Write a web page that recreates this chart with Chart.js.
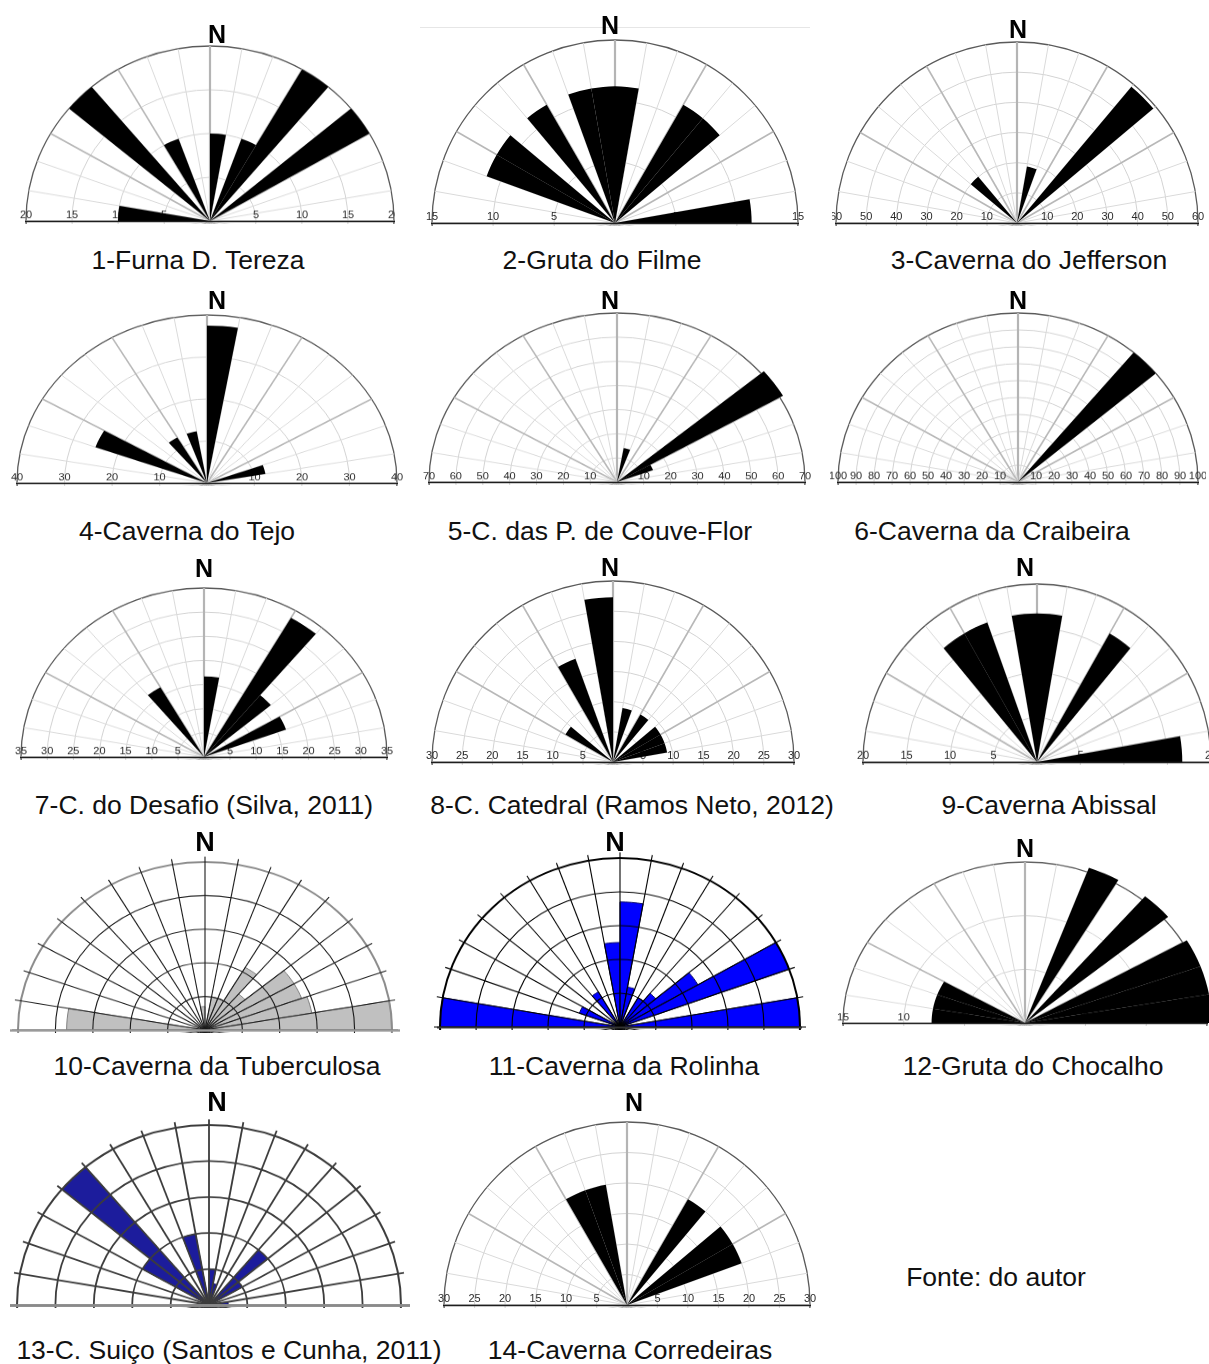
<!DOCTYPE html>
<html lang="pt">
<head>
<meta charset="utf-8">
<title>Rosetas de direção das cavernas</title>
<script src="https://cdn.jsdelivr.net/npm/chart.js@4.4.1/dist/chart.umd.min.js"></script>
<style>
  html, body { margin: 0; padding: 0; background: #fff; }
  body { position: relative; width: 1209px; height: 1364px; overflow: hidden;
         font-family: "Liberation Sans", Arial, sans-serif; color: #111; }
  .box { position: absolute; overflow: hidden; }
  .box canvas { position: absolute; }
  .north { position: absolute; font-weight: bold; font-size: 25px; line-height: 1;
           transform: translate(-50%, -50%); color: #000; }
  .north.narrow { font-family: "Liberation Sans Narrow", "Arial Narrow", "Liberation Sans", sans-serif; font-size: 27px; }
  .title { position: absolute; font-size: 26.5px; line-height: 1; white-space: nowrap;
           transform: translate(-50%, -50%); }
  .rule { position: absolute; height: 1px; background: #e6e6e6; }
</style>
</head>
<body>
<script>
// 10° direction classes, from W (270°) through N to E (90°)
const directionClasses = ['270-280','280-290','290-300','300-310','310-320','320-330','330-340','340-350','350-360',
                          '000-010','010-020','020-030','030-040','040-050','050-060','060-070','070-080','080-090'];
// the southern half of the circle is never filled
const southernClasses = ['090-100','100-110','110-120','120-130','130-140','140-150','150-160','160-170','170-180',
                         '180-190','190-200','200-210','210-220','220-230','230-240','240-250','250-260','260-270'];
const southernValues = [0,0,0,0,0,0,0,0,0, 0,0,0,0,0,0,0,0,0];

// frequency (%) per class, W -> N -> E
const furnaDTereza     = [10, 0, 0, 0, 20, 0, 10, 0, 0, 10, 0, 10, 20, 0, 20, 0, 0, 0];
const grutaDoFilme     = [0, 0, 11.2, 11.2, 0, 11.2, 0, 11.2, 11.2, 11.2, 0, 0, 11.2, 11.2, 0, 0, 0, 11.2];
const cavernaJefferson = [0, 0, 0, 0, 20, 0, 0, 0, 0, 0, 19, 0, 0, 59, 0, 0, 0, 0];
const cavernaTejo      = [0, 0, 25, 0, 0, 12.5, 0, 12.5, 0, 37.5, 0, 0, 0, 0, 0, 0, 12.5, 0];
const couveFlor        = [0, 0, 0, 0, 0, 0, 0, 0, 0, 0, 14.3, 0, 0, 0, 71.4, 14.3, 0, 0];
const craibeira        = [0, 0, 0, 0, 0, 0, 0, 0, 0, 0, 0, 0, 0, 100, 0, 0, 0, 0];
const desafio          = [0, 0, 0, 0, 0, 16.7, 0, 0, 0, 16.7, 0, 0, 33.3, 16.7, 0, 16.7, 0, 0];
const catedral         = [0, 0, 0, 9.1, 0, 0, 18.2, 0, 27.3, 0, 9.1, 0, 9.1, 0, 9.1, 9.1, 9.1, 0];
const abissal          = [0, 0, 0, 0, 0, 16.7, 16.7, 0, 16.7, 16.7, 0, 0, 16.7, 0, 0, 0, 0, 16.7];
// roses 10, 11 and 13 carry no scale: values are in rings (rim = 5)
const tuberculosa      = [3.7, 0, 0, 0, 0, 0, 0, 0, 0.7, 0, 1.0, 1.0, 2.15, 1.4, 2.75, 2.75, 2.9, 5.0];
const rolinha          = [5.0, 0, 1.2, 0, 0, 1.2, 0, 0, 2.5, 3.7, 1.2, 0, 1.0, 1.3, 2.5, 5.0, 0, 5.0];
const chocalho         = [7.7, 7.7, 7.7, 0, 0, 0, 0, 0, 0, 0, 0, 15.4, 0, 15.4, 0, 15.4, 15.4, 15.4];
const suico            = [0, 0, 0, 2.0, 5.0, 0, 0, 2.0, 0, 1.0, 0.6, 0, 0, 2.0, 1.0, 0, 0, 0.5];
const corredeiras      = [0, 0, 0, 0, 0, 0, 20, 20, 0, 0, 0, 0, 20, 0, 20, 20, 0, 0];

// numbers printed along the E-W axis (mirrored on both sides)
const axis20  = [5, 10, 15, 20];
const axis15  = [5, 10, 15];
const axis60  = [10, 20, 30, 40, 50, 60];
const axis40  = [10, 20, 30, 40];
const axis70  = [10, 20, 30, 40, 50, 60, 70];
const axis100 = [10, 20, 30, 40, 50, 60, 70, 80, 90, 100];
const axis35  = [5, 10, 15, 20, 25, 30, 35];
const axis30  = [5, 10, 15, 20, 25, 30];

const captions = [
  '1-Furna D. Tereza', '2-Gruta do Filme', '3-Caverna do Jefferson',
  '4-Caverna do Tejo', '5-C. das P. de Couve-Flor', '6-Caverna da Craibeira',
  '7-C. do Desafio (Silva, 2011)', '8-C. Catedral (Ramos Neto, 2012)', '9-Caverna Abissal',
  '10-Caverna da Tuberculosa', '11-Caverna da Rolinha', '12-Gruta do Chocalho',
  '13-C. Suiço (Santos e Cunha, 2011)', '14-Caverna Corredeiras'
];
const sourceNote = 'Fonte: do autor';

// ---- layout of each rose on the sheet --------------------------------------
// cx, cy: centre of the rose; rh, rv: horizontal / vertical radius of the rim
const roses = [
  { values: furnaDTereza,     max: 20,  step: 5,  axis: axis20,  cx: 210,  cy: 221,  rh: 184, rv: 175, clip: [10, 20, 395, 224],
    north: [217, 34],   caption: [198, 260] },
  { values: grutaDoFilme,     max: 15,  step: 5,  axis: axis15,  cx: 615,  cy: 223,  rh: 183, rv: 184,
    north: [610, 25],   caption: [602, 260] },
  { values: cavernaJefferson, max: 60,  step: 10, axis: axis60,  cx: 1017, cy: 223,  rh: 181, rv: 180, clip: [832, 25, 1209, 226],
    north: [1018, 29],  caption: [1029, 260] },
  { values: cavernaTejo,      max: 40,  step: 10, axis: axis40,  cx: 207,  cy: 483,  rh: 190, rv: 168,
    north: [217, 300],  caption: [187, 531] },
  { values: couveFlor,        max: 70,  step: 10, axis: axis70,  cx: 617,  cy: 482,  rh: 188, rv: 169,
    north: [610, 300],  caption: [600, 531] },
  { values: craibeira,        max: 100, step: 10, axis: axis100, cx: 1018, cy: 482,  rh: 180, rv: 169,
    north: [1018, 300], caption: [992, 531] },
  { values: desafio,          max: 35,  step: 5,  axis: axis35,  cx: 204,  cy: 757,  rh: 183, rv: 169,
    north: [204, 568],  caption: [204, 805] },
  { values: catedral,         max: 30,  step: 5,  axis: axis30,  cx: 613,  cy: 762,  rh: 181, rv: 179,
    north: [610, 567],  caption: [632, 805] },
  { values: abissal,          max: 20,  step: 5,  axis: axis20,  cx: 1037, cy: 762,  rh: 174, rv: 178,
    north: [1025, 567], caption: [1049, 805] },
  { values: tuberculosa,      max: 5,   step: 1,  axis: null,    cx: 205,  cy: 1030, rh: 187, rv: 168, kind: 'grid',
    fill: '#c0c0c0', edge: '#808080', ring: '#1a1a1a', rim: '#8c8c8c', spoke: '#1a1a1a', lw: 1.1, base: '#9a9a9a', baseW: 2.5, baseX: [10, 400],
    north: [205, 842],  caption: [217, 1066] },
  { values: rolinha,          max: 5,   step: 1,  axis: null,    cx: 620,  cy: 1027, rh: 180, rv: 169, kind: 'grid',
    fill: '#0000ff', edge: '#000066', ring: '#000000', rim: '#000000', spoke: '#000000', lw: 1.1, base: '#333333', baseW: 2, baseX: [437, 802],
    north: [615, 842],  caption: [624, 1066] },
  { values: chocalho,         max: 15,  step: 5,  axis: axis15,  cx: 1025, cy: 1023, rh: 182, rv: 161,
    north: [1025, 848], caption: [1033, 1066] },
  { values: suico,            max: 5,   step: 1,  axis: null,    cx: 209,  cy: 1305, rh: 192, rv: 180, kind: 'grid',
    fill: '#1c1c9c', edge: '#10105a', ring: '#3c3c3c', rim: '#3c3c3c', spoke: '#3c3c3c', lw: 1.8, base: '#8a8a8a', baseW: 3, baseX: [10, 410],
    north: [217, 1102], caption: [229, 1350] },
  { values: corredeiras,      max: 30,  step: 5,  axis: axis30,  cx: 627,  cy: 1305, rh: 183, rv: 182,
    north: [634, 1102], caption: [630, 1350] }
];

// draws the E-W scale numbers under the petals and the base line above them
const roseAxis = {
  id: 'roseAxis',
  beforeDatasetsDraw(chart, args, opts) {
    if (!opts.values) return;
    const s = chart.scales.r, ctx = chart.ctx;
    ctx.save();
    ctx.font = '11px "Liberation Sans", Arial, sans-serif';
    ctx.fillStyle = '#2b2b2b';
    ctx.textAlign = 'center';
    ctx.textBaseline = 'alphabetic';
    opts.values.forEach(v => {
      const d = s.getDistanceFromCenterForValue(v);
      ctx.fillText(String(v), s.xCenter - d, s.yCenter - 3);
      ctx.fillText(String(v), s.xCenter + d, s.yCenter - 3);
    });
    ctx.restore();
  },
  afterDraw(chart, args, opts) {
    const s = chart.scales.r, ctx = chart.ctx;
    ctx.save();
    ctx.strokeStyle = opts.color;
    ctx.lineWidth = opts.width;
    ctx.beginPath();
    ctx.moveTo(s.xCenter - opts.left, s.yCenter + 0.5);
    ctx.lineTo(s.xCenter + opts.right, s.yCenter + 0.5);
    ctx.stroke();
    ctx.restore();
  }
};

function buildRose(spec) {
  const gridStyle = spec.kind === 'grid';
  const pad = 8;
  const overhang = gridStyle ? 6 : 0;          // spokes poke past the rim
  const R = spec.rh + overhang;
  const scaleMax = spec.max * R / spec.rh;
  const size = 2 * (R + pad);
  const sy = Math.abs(spec.rv / spec.rh - 1) < 0.02 ? 1 : spec.rv / spec.rh;

  const clip = spec.clip || [spec.cx - R - 14, spec.cy - spec.rv - 16, spec.cx + R + 14, spec.cy + 3];
  const box = document.createElement('div');
  box.className = 'box';
  Object.assign(box.style, {
    left: clip[0] + 'px', top: clip[1] + 'px',
    width: (clip[2] - clip[0]) + 'px', height: (clip[3] - clip[1]) + 'px'
  });
  const canvas = document.createElement('canvas');
  canvas.width = size;
  canvas.height = size;
  Object.assign(canvas.style, {
    left: (spec.cx - R - pad - clip[0]) + 'px', top: (spec.cy - R - pad - clip[1]) + 'px',
    width: size + 'px', height: size + 'px',
    transformOrigin: (R + pad) + 'px ' + (R + pad) + 'px',
    transform: 'scaleY(' + sy + ')'
  });
  box.appendChild(canvas);
  document.body.appendChild(box);

  const isRing = v => Math.abs(v / spec.step - Math.round(v / spec.step)) < 1e-6 && v <= spec.max + 1e-6;
  const isRim = v => Math.abs(v - spec.max) < 1e-6;

  const grid = gridStyle ? {
    circular: true, z: 1,
    color: c => isRim(c.tick.value) ? spec.rim : spec.ring,
    lineWidth: c => !isRing(c.tick.value) ? 0 : (isRim(c.tick.value) ? 2 : spec.lw)
  } : {
    circular: true,
    color: c => isRim(c.tick.value) ? '#5a5a5a' : '#d3d3d3',
    lineWidth: c => isRim(c.tick.value) ? 1.3 : 1
  };
  const spokes = gridStyle ? {
    display: true,
    color: spec.spoke,
    lineWidth: spec.lw
  } : {
    display: true,
    color: c => c.index === 9 ? '#b4b4b4' : (c.index % 3 === 0 ? '#b8b8b8' : '#dadada'),
    lineWidth: c => c.index === 9 ? 2.2 : (c.index % 3 === 0 ? 1.6 : 1)
  };

  new Chart(canvas, {
    type: 'polarArea',
    data: {
      labels: directionClasses.concat(southernClasses),
      datasets: [{
        data: spec.values.concat(southernValues),
        backgroundColor: gridStyle ? spec.fill : '#000000',
        borderColor: gridStyle ? spec.edge : '#000000',
        borderWidth: gridStyle ? 1 : 0,
        clip: false
      }]
    },
    options: {
      responsive: false,
      animation: false,
      devicePixelRatio: 1,
      layout: { padding: pad },
      plugins: {
        legend: { display: false },
        tooltip: { enabled: false },
        roseAxis: gridStyle
          ? { values: null, color: spec.base, width: spec.baseW, left: spec.cx - spec.baseX[0], right: spec.baseX[1] - spec.cx }
          : { values: spec.axis, color: '#1e1e1e', width: 1.4, left: spec.rh + 1, right: spec.rh + 1 }
      },
      scales: {
        r: {
          min: 0,
          max: scaleMax,
          startAngle: -90,
          ticks: { display: false, stepSize: spec.step, includeBounds: false },
          grid: grid,
          angleLines: spokes,
          pointLabels: { display: false }
        }
      }
    },
    plugins: [roseAxis]
  });

  const n = document.createElement('div');
  n.className = 'north' + (gridStyle ? ' narrow' : '');
  n.textContent = 'N';
  n.style.left = spec.north[0] + 'px';
  n.style.top = spec.north[1] + 'px';
  document.body.appendChild(n);
}

// faint frame line above the second rose
const rule = document.createElement('div');
rule.className = 'rule';
Object.assign(rule.style, { left: '420px', top: '27px', width: '390px' });
document.body.appendChild(rule);

roses.forEach((spec, i) => {
  buildRose(spec);
  const t = document.createElement('div');
  t.className = 'title';
  t.textContent = captions[i];
  t.style.left = spec.caption[0] + 'px';
  t.style.top = spec.caption[1] + 'px';
  document.body.appendChild(t);
});

const note = document.createElement('div');
note.className = 'title';
note.textContent = sourceNote;
note.style.left = '996px';
note.style.top = '1277px';
document.body.appendChild(note);
</script>
</body>
</html>
